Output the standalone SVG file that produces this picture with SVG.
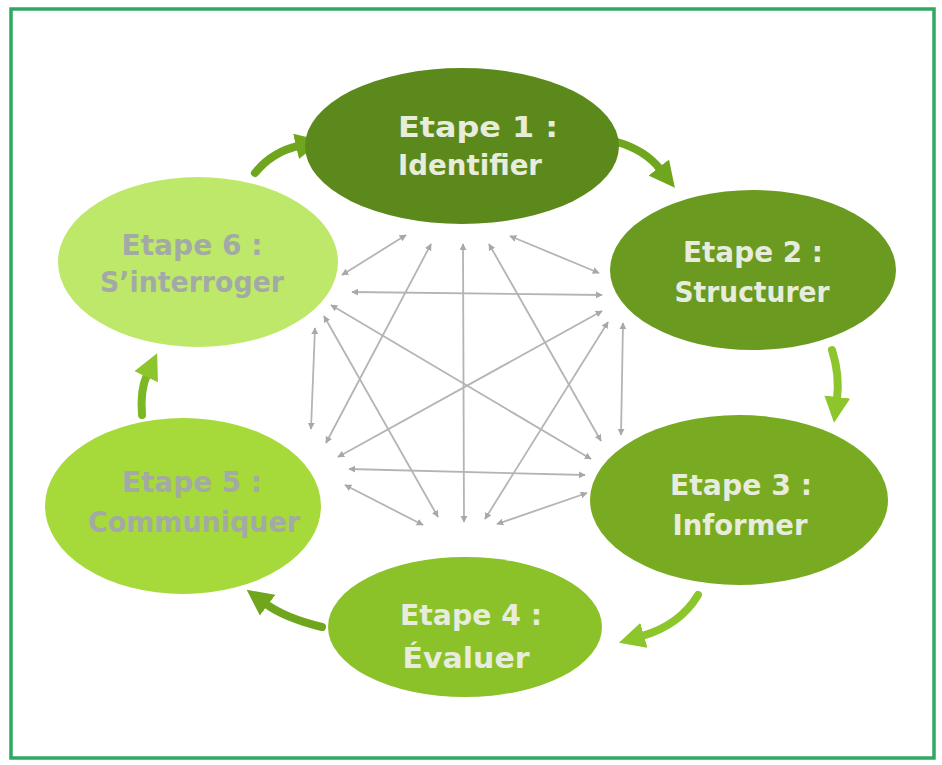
<svg xmlns="http://www.w3.org/2000/svg" width="942" height="765" viewBox="0 0 942 765">
<style>
.lbl{font-family:"DejaVu Sans","Liberation Sans",sans-serif;font-weight:bold;font-size:29px;text-anchor:middle}
.lt{fill:#e8ecdc}
.dk{fill:#a3aaa6}
.gl{stroke:#b4b4b4;stroke-width:1.8;fill:none;marker-start:url(#ga);marker-end:url(#ga)}
.ga{fill:none;stroke-width:8;stroke-linecap:round}
</style>
<defs>
<marker id="ga" viewBox="0 0 10 10" refX="9" refY="5" markerWidth="7" markerHeight="7" markerUnits="userSpaceOnUse" orient="auto-start-reverse"><path d="M0,0 L10,5 L0,10 z" fill="#a8a8a8"/></marker>
<marker id="hd" viewBox="0 0 26 26" refX="2" refY="13" markerWidth="26" markerHeight="26" markerUnits="userSpaceOnUse" orient="auto"><path d="M0,0 L26,13 L0,26 z" fill="#70a61e"/></marker>
<marker id="hl" viewBox="0 0 26 26" refX="2" refY="13" markerWidth="26" markerHeight="26" markerUnits="userSpaceOnUse" orient="auto"><path d="M0,0 L26,13 L0,26 z" fill="#8cc62c"/></marker>
</defs>
<rect x="0" y="0" width="942" height="765" fill="#ffffff"/>
<rect x="11" y="9" width="923" height="749" fill="none" stroke="#2fa862" stroke-width="3.5"/>

<g id="connectors">
<path class="gl" d="M406,235 L342,275"/>
<path class="gl" d="M431,244 L326,443"/>
<path class="gl" d="M463,244 L464,522"/>
<path class="gl" d="M489,244 L601,441"/>
<path class="gl" d="M510,236 L599,273"/>
<path class="gl" d="M352,292 L602,295"/>
<path class="gl" d="M331,305 L591,459"/>
<path class="gl" d="M324,316 L438,517"/>
<path class="gl" d="M315,328 L311,429"/>
<path class="gl" d="M602,311 L338,457"/>
<path class="gl" d="M608,322 L485,519"/>
<path class="gl" d="M623,323 L621,435"/>
<path class="gl" d="M349,469 L585,475"/>
<path class="gl" d="M345,485 L423,525"/>
<path class="gl" d="M587,493 L497,524"/>
<path class="ga" stroke="#70a61e" marker-end="url(#hd)" d="M255,173 Q272,152 298,146"/>
<path class="ga" stroke="#70a61e" marker-end="url(#hd)" d="M617,142 Q645,150 660,169"/>
<path class="ga" stroke="#8cc62c" marker-end="url(#hl)" d="M832,350 Q840,375 837,399"/>
<path class="ga" stroke="#8cc62c" marker-end="url(#hl)" d="M698,595 Q680,625 642,636"/>
<path class="ga" stroke="#70a61e" marker-end="url(#hd)" d="M322,627 Q285,618 266,604"/>
<path class="ga" stroke="#7ab824" marker-end="url(#hl)" d="M142,415 Q140,390 147,375"/>
</g>

<g id="etape1">
<ellipse cx="462" cy="146" rx="157" ry="78" fill="#5c891b"/>
<text class="lbl lt" x="478" y="137" textLength="160" lengthAdjust="spacingAndGlyphs">Etape 1 :</text>
<text class="lbl lt" x="470" y="175" textLength="144" lengthAdjust="spacingAndGlyphs">Identifier</text>
</g>
<g id="etape2">
<ellipse cx="753" cy="270" rx="143" ry="80" fill="#6a9a1f"/>
<text class="lbl lt" x="753" y="262" textLength="140" lengthAdjust="spacingAndGlyphs">Etape 2 :</text>
<text class="lbl lt" x="752" y="302" textLength="155" lengthAdjust="spacingAndGlyphs">Structurer</text>
</g>
<g id="etape3">
<ellipse cx="739" cy="500" rx="149" ry="85" fill="#78ab22"/>
<text class="lbl lt" x="741" y="495" textLength="142" lengthAdjust="spacingAndGlyphs">Etape 3 :</text>
<text class="lbl lt" x="740" y="535" textLength="135" lengthAdjust="spacingAndGlyphs">Informer</text>
</g>
<g id="etape4">
<ellipse cx="465" cy="627" rx="137" ry="70" fill="#8bc22a"/>
<text class="lbl lt" x="471" y="625" textLength="142" lengthAdjust="spacingAndGlyphs">Etape 4 :</text>
<text class="lbl lt" x="466" y="668" textLength="127" lengthAdjust="spacingAndGlyphs">Évaluer</text>
</g>
<g id="etape5">
<ellipse cx="183" cy="506" rx="138" ry="88" fill="#a6d93a"/>
<text class="lbl dk" x="192" y="492" textLength="140" lengthAdjust="spacingAndGlyphs">Etape 5 :</text>
<text class="lbl dk" x="194" y="532" textLength="212" lengthAdjust="spacingAndGlyphs">Communiquer</text>
</g>
<g id="etape6">
<ellipse cx="198" cy="262" rx="140" ry="85" fill="#bde86a"/>
<text class="lbl dk" x="192" y="255" textLength="141" lengthAdjust="spacingAndGlyphs">Etape 6 :</text>
<text class="lbl dk" x="192" y="292" textLength="184" lengthAdjust="spacingAndGlyphs">S’interroger</text>
</g>
</svg>
